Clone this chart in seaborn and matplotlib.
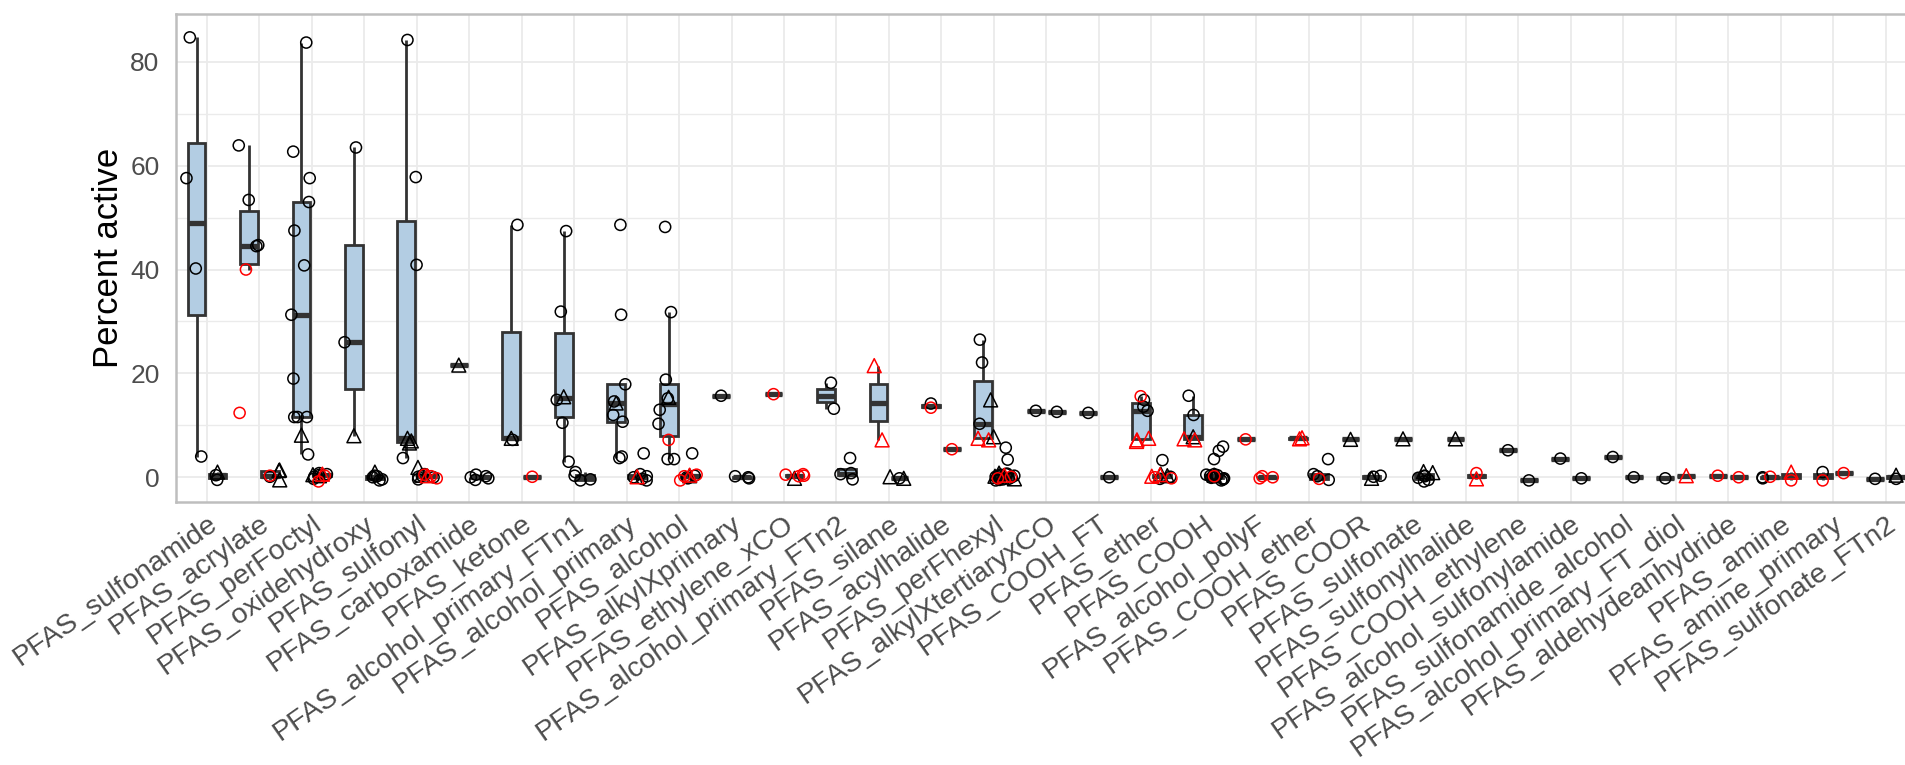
import numpy as np
import pandas as pd
import matplotlib
matplotlib.use("Agg")
import matplotlib.pyplot as plt
import seaborn as sns
from matplotlib.ticker import MultipleLocator

categories = [
    "PFAS_sulfonamide", "PFAS_acrylate", "PFAS_perFoctyl", "PFAS_oxidehydroxy",
    "PFAS_sulfonyl", "PFAS_carboxamide", "PFAS_ketone", "PFAS_alcohol_primary_FTn1",
    "PFAS_alcohol_primary", "PFAS_alcohol", "PFAS_alkylXprimary", "PFAS_ethylene_xCO",
    "PFAS_alcohol_primary_FTn2", "PFAS_silane", "PFAS_acylhalide", "PFAS_perFhexyl",
    "PFAS_alkylXtertiaryxCO", "PFAS_COOH_FT", "PFAS_ether", "PFAS_COOH",
    "PFAS_alcohol_polyF", "PFAS_COOH_ether", "PFAS_COOR", "PFAS_sulfonate",
    "PFAS_sulfonylhalide", "PFAS_COOH_ethylene", "PFAS_alcohol_sulfonylamide",
    "PFAS_sulfonamide_alcohol", "PFAS_alcohol_primary_FT_diol", "PFAS_aldehydeanhydride",
    "PFAS_amine", "PFAS_amine_primary", "PFAS_sulfonate_FTn2",
]

# Point kinds: "o" black circle, "^" black triangle, "ro" red circle, "r^" red triangle
# First set (left box of each pair): (percent active, kind)
set_a = [
    [(84.7, "o"), (57.6, "o"), (40.2, "o"), (4.0, "o")],
    [(63.9, "o"), (53.4, "o"), (44.7, "o"), (44.5, "o"), (40.0, "ro"), (12.4, "ro")],
    [(83.7, "o"), (62.7, "o"), (57.6, "o"), (53.0, "o"), (47.5, "o"), (40.8, "o"), (31.3, "o"),
     (19.0, "o"), (11.6, "o"), (11.6, "o"), (11.6, "o"), (8.1, "^"), (4.4, "o")],
    [(63.5, "o"), (26.0, "o"), (8.0, "^")],
    [(84.2, "o"), (57.8, "o"), (40.9, "o"), (7.5, "^"), (7.0, "^"), (6.6, "^"), (3.7, "o")],
    [(21.6, "^")],
    [(48.6, "o"), (7.5, "^"), (7.2, "o")],
    [(47.4, "o"), (31.9, "o"), (15.5, "^"), (14.9, "o"), (10.5, "o"), (3.0, "o")],
    [(48.6, "o"), (31.3, "o"), (17.9, "o"), (14.6, "o"), (14.3, "^"), (12.0, "o"), (10.7, "o"),
     (4.0, "o"), (3.7, "o")],
    [(48.2, "o"), (31.8, "o"), (18.8, "o"), (15.4, "^"), (15.2, "o"), (13.0, "o"), (10.3, "o"),
     (7.2, "ro"), (3.5, "o"), (3.5, "o")],
    [(15.7, "o")],
    [(16.0, "ro")],
    [(18.2, "o"), (13.2, "o")],
    [(21.5, "r^"), (7.2, "r^")],
    [(14.2, "o"), (13.4, "ro")],
    [(26.5, "o"), (22.1, "o"), (14.9, "^"), (10.3, "o"), (7.8, "^"), (7.5, "r^"), (7.2, "r^")],
    [(12.8, "o")],
    [(12.4, "o")],
    [(15.6, "ro"), (14.9, "o"), (13.6, "o"), (12.8, "o"), (7.5, "r^"), (7.2, "r^"), (6.9, "r^")],
    [(15.7, "o"), (12.0, "o"), (7.8, "^"), (7.4, "r^"), (7.2, "r^")],
    [(7.3, "ro")],
    [(7.6, "r^"), (7.4, "r^")],
    [(7.3, "^")],
    [(7.4, "^")],
    [(7.4, "^")],
    [(5.2, "o")],
    [(3.6, "o")],
    [(3.9, "o")],
    [(-0.2, "o")],
    [(0.3, "ro")],
    [(0.0, "o"), (-0.2, "o"), (0.1, "ro")],
    [(1.0, "o"), (-0.6, "ro")],
    [(-0.3, "o")],
]

# Second set (right box of each pair)
set_b = [
    [(1.0, "^"), (0.4, "o"), (-0.5, "o")],
    [(1.3, "^"), (1.4, "^"), (-0.5, "^"), (0.3, "ro"), (0.1, "o")],
    [(0.8, "o"), (0.4, "o"), (0.1, "o"), (-0.3, "o"), (0.6, "o"), (0.3, "ro"), (-0.8, "ro"),
     (0.6, "r^"), (0.3, "^"), (0.5, "^")],
    [(0.3, "o"), (0.0, "o"), (-0.4, "o"), (-0.6, "o"), (0.2, "o"), (1.0, "^")],
    [(0.3, "o"), (0.0, "o"), (-0.4, "o"), (0.6, "o"), (0.1, "o"), (0.2, "ro"), (-0.2, "ro"),
     (0.5, "ro"), (0.3, "r^"), (1.9, "^"), (0.4, "^")],
    [(0.5, "o"), (0.0, "o"), (-0.5, "o"), (0.2, "o"), (-0.2, "o")],
    [(0.1, "ro")],
    [(1.0, "o"), (0.3, "o"), (-0.4, "o"), (-0.6, "o")],
    [(4.6, "o"), (0.6, "o"), (0.2, "o"), (0.0, "o"), (-0.3, "o"), (-0.6, "o"), (0.1, "r^")],
    [(4.6, "o"), (0.3, "o"), (-0.2, "o"), (0.0, "o"), (0.2, "ro"), (-0.6, "ro"), (0.5, "ro"),
     (0.4, "r^"), (0.3, "^")],
    [(0.2, "o"), (0.0, "o"), (-0.2, "o")],
    [(0.5, "ro"), (0.3, "ro"), (0.2, "ro"), (0.6, "ro"), (-0.2, "^")],
    [(3.7, "o"), (0.8, "o"), (0.6, "o"), (-0.4, "o")],
    [(-0.2, "o"), (-0.2, "^"), (0.1, "^")],
    [(5.4, "ro")],
    [(5.7, "o"), (3.4, "o"), (0.6, "o"), (0.4, "o"), (0.2, "o"), (0.0, "o"), (-0.2, "o"),
     (-0.4, "o"), (-0.6, "o"), (0.5, "o"), (0.1, "o"), (-0.1, "o"), (-0.3, "o"), (0.3, "o"),
     (0.7, "o"), (-0.5, "o"), (0.8, "^"), (0.2, "^"), (-0.3, "^"), (0.1, "ro"), (-0.2, "ro"),
     (0.4, "r^")],
    [(12.6, "o")],
    [(0.0, "o")],
    [(3.3, "o"), (0.2, "r^"), (0.5, "r^"), (0.0, "ro"), (-0.2, "ro"), (0.3, "^"), (0.1, "o"),
     (-0.3, "o"), (0.6, "^")],
    [(5.9, "o"), (5.1, "o"), (3.5, "o"), (0.6, "o"), (0.4, "o"), (0.2, "o"), (0.0, "o"),
     (-0.2, "o"), (-0.4, "o"), (-0.6, "o"), (0.5, "o"), (0.1, "o"), (-0.1, "o"), (-0.3, "o"),
     (0.3, "o"), (0.2, "ro"), (0.4, "^")],
    [(0.2, "ro"), (0.0, "ro"), (-0.2, "ro")],
    [(3.5, "o"), (0.6, "o"), (0.2, "o"), (-0.5, "o"), (-0.3, "ro")],
    [(-0.2, "^"), (0.1, "o"), (0.3, "o")],
    [(0.2, "o"), (-0.1, "o"), (-0.5, "o"), (0.3, "o"), (-0.8, "o"), (1.1, "^"), (0.9, "^")],
    [(0.8, "ro"), (-0.3, "r^")],
    [(-0.6, "o")],
    [(-0.2, "o")],
    [(0.0, "o")],
    [(0.3, "r^")],
    [(0.0, "ro")],
    [(-0.6, "ro"), (1.0, "r^")],
    [(0.8, "ro")],
    [(-0.3, "o"), (0.4, "^")],
]

BOX_FILL = "#B3CDE3"
LINE = "#333333"
KINDS = {
    "o": ("o", "black", 8.0),
    "^": ("^", "black", 10.0),
    "ro": ("o", "#FF0000", 8.0),
    "r^": ("^", "#FF0000", 10.0),
}

rows = []
for cat, pts in zip(categories, set_a):
    rows += [(cat, "A", v, k) for v, k in pts]
for cat, pts in zip(categories, set_b):
    rows += [(cat, "B", v, k) for v, k in pts]
df = pd.DataFrame(rows, columns=["category", "set", "value", "kind"])

sns.set_style("white")
plt.rcParams["font.family"] = ["Liberation Sans", "DejaVu Sans"]

fig = plt.figure(figsize=(19.06, 7.65), dpi=100)
ax = fig.add_axes([0.0921, 0.3442, 0.9137, 0.6375])

sns.boxplot(
    data=df, x="category", y="value", hue="set", order=categories, hue_order=["A", "B"],
    palette={"A": BOX_FILL, "B": BOX_FILL}, saturation=1, dodge=True, width=0.8, gap=0.15,
    showfliers=False, showcaps=False, whis=1.5, linecolor=LINE, linewidth=2.0,
    medianprops={"linewidth": 3.8, "color": LINE}, legend=False, ax=ax,
)

np.random.seed(11)
for kind, (marker, colour, size) in KINDS.items():
    sub = df[df["kind"] == kind]
    n0 = len(ax.collections)
    sns.stripplot(
        data=sub, x="category", y="value", hue="set", order=categories, hue_order=["A", "B"],
        palette={"A": colour, "B": colour}, dodge=True, jitter=0.4, marker=marker,
        size=size, linewidth=0, legend=False, ax=ax,
    )
    for coll in ax.collections[n0:]:
        coll.set_facecolor("none")
        coll.set_edgecolor(colour)
        coll.set_linewidth(1.1)
        coll.set_zorder(4)

ax.set_xlim(-0.6, 32.6)
ax.set_ylim(-4.7, 89.2)
ax.yaxis.set_major_locator(MultipleLocator(20))
ax.yaxis.set_minor_locator(MultipleLocator(10))
ax.set_axisbelow(True)
ax.grid(True, which="major", axis="both", color="#EBEBEB", linewidth=1.3)
ax.grid(True, which="minor", axis="y", color="#EBEBEB", linewidth=1.0)

for sp in ax.spines.values():
    sp.set_visible(True)
    sp.set_color("#BEBEBE")
    sp.set_linewidth(1.8)

ax.set_xticks(range(len(categories)))
ax.set_xticklabels(categories, rotation=35, ha="right", va="top",
                   rotation_mode="anchor", fontsize=20.5, color="#4D4D4D")
ax.tick_params(axis="x", length=5.8, width=1.1, color="#333333", pad=0.8)
ax.tick_params(axis="y", which="both", length=0, pad=11.5, labelsize=19, labelcolor="#4D4D4D")
ax.set_xlabel("")
ax.set_ylabel("Percent active", fontsize=25, color="black", labelpad=4)

fig.savefig("out.png", dpi=100)
